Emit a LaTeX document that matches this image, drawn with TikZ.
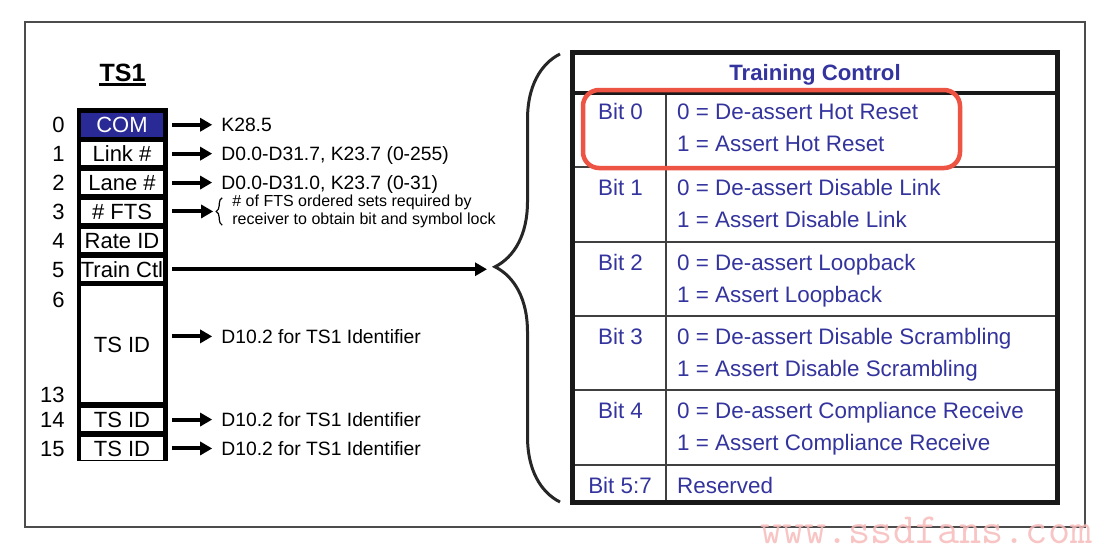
\documentclass[tikz,border=0pt]{standalone}
\usepackage{fontspec}
\setmainfont{Liberation Sans}
\usetikzlibrary{arrows.meta,positioning,decorations.pathreplacing}
\definecolor{tcblue}{RGB}{52,52,158}
\definecolor{comblue}{RGB}{42,42,150}
\definecolor{hilite}{RGB}{238,84,68}
\definecolor{wmpink}{RGB}{247,186,186}

\begin{document}
\begin{tikzpicture}[
  x=1pt, y=-1pt,
  font=\fontsize{22}{26}\selectfont,
  cell/.style={fill=white, inner sep=0pt, minimum width=82pt, minimum height=23.5pt, text height=16pt, text depth=0pt},
  num/.style={inner sep=0pt, text height=16pt, text depth=0pt},
  note/.style={font=\fontsize{19.3}{22}\selectfont, inner sep=0pt, text height=13.8pt, text depth=0pt},
  fts/.style={font=\fontsize{16}{18}\selectfont, inner sep=0pt, align=left},
  arr/.style={-{Triangle[length=12pt,width=13pt]}, line width=4pt, shorten <=9pt, shorten >=9pt},
  brc/.style={decorate, decoration={brace, amplitude=6pt}, line width=1.2pt},
  bigbrc/.style={decorate, decoration={brace, amplitude=65pt, aspect=0.525}, line width=3pt, black!85},
  tc/.style={text=tcblue, inner sep=0pt, font=\fontsize{22.4}{26}\selectfont},
  rowline/.style={line width=2pt, black!75},
  hl/.style={draw=hilite, line width=4.5pt, rounded corners=16pt},
]
\useasboundingbox[fill=white] (0,0) rectangle (1116,554);
\draw[line width=2pt, black!70] (24.5,21.5) rectangle (1084.5,526.5);

% TS1 ordered set
\node[inner sep=0pt, anchor=base, font=\fontsize{25}{28}\selectfont\bfseries] (ts1) at (122.5,81) {TS1};
\draw[line width=3pt] ([yshift=-3.5pt]ts1.base west) -- ([yshift=-3.5pt]ts1.base east);

\fill[black] (77,108) rectangle (168,461);
\node[cell, fill=comblue, text=white] (c0) at (122,124.75) {COM};
\node[cell, below=5pt of c0] (c1) {Link \#};
\node[cell, below=5pt of c1] (c2) {Lane \#};
\node[cell, below=5pt of c2] (c3) {\# FTS};
\node[cell, below=5pt of c3] (c4) {Rate ID};
\node[cell, below=5pt of c4] (c5) {Train Ctl};
\node[cell, below=5pt of c5, minimum height=116pt] (c6) {TS ID};
\node[cell, below=5pt of c6] (c14) {TS ID};
\node[cell, below=5pt of c14] (c15) {TS ID};

\node[num, left=16pt of c0] (n0) {0};
\node[num, left=16pt of c1] (n1) {1};
\node[num, left=16pt of c2] (n2) {2};
\node[num, left=16pt of c3] (n3) {3};
\node[num, left=16pt of c4] (n4) {4};
\node[num, left=16pt of c5] (n5) {5};
\node[num, left=16pt of c6.north west, yshift=-13pt] (n6) {6};
\node[num, left=16pt of c6.south west, yshift=8pt] (n13) {13};
\node[num, left=16pt of c14] (n14) {14};
\node[num, left=16pt of c15] (n15) {15};

\node[note, right=58pt of c0] (t0) {K28.5};
\node[note, right=58pt of c1] (t1) {D0.0-D31.7, K23.7 (0-255)};
\node[note, right=58pt of c2] (t2) {D0.0-D31.0, K23.7 (0-31)};
\node[fts, right=69pt of c3] (t3) {\# of FTS ordered sets required by\\receiver to obtain bit and symbol lock};
\node[note, right=58pt of c6, yshift=8pt] (t6) {D10.2 for TS1 Identifier};
\node[note, right=58pt of c14] (t14) {D10.2 for TS1 Identifier};
\node[note, right=58pt of c15] (t15) {D10.2 for TS1 Identifier};

\draw[arr] (c0.east) -- (t0.west);
\draw[arr] (c1.east) -- (t1.west);
\draw[arr] (c2.east) -- (t2.west);
\draw[brc] ([xshift=-10pt,yshift=3pt]t3.south west) -- ([xshift=-10pt,yshift=-3pt]t3.north west);
\coordinate (f3) at ([xshift=-16pt]t3.west);
\draw[arr, shorten >=3pt] (c3.east) -- (f3);
\draw[arr] (c6.east |- t6.west) -- (t6.west);
\draw[arr] (c14.east) -- (t14.west);
\draw[arr] (c15.east) -- (t15.west);

% brace to the training control table
\coordinate (bigtop) at (560,54);
\coordinate (bigbot) at (560,502);
\draw[bigbrc] (bigbot) -- (bigtop);
\path (bigtop |- c5) ++(-65,0) coordinate (btip);
\draw[arr, shorten >=8pt] (c5.east) -- (btip);

% training control table
\draw[line width=5pt, black!90] (572,52.5) rectangle (1057,502.5);
\draw[line width=4pt, black!90] (572,92.5) -- (1057,92.5);
\foreach \y in {167,242,316,390,465}
  \draw[rowline] (575,\y) -- (1055,\y);
\draw[rowline] (666,95) -- (666,500);

\node[tc, anchor=base, font=\fontsize{22.2}{26}\selectfont\bfseries] (hdr) at (815,80) {Training Control};
\foreach \y/\b/\p in {111/0/Hot Reset,187/1/Disable Link,262/2/Loopback,336/3/Disable Scrambling,410/4/Compliance Receive} {
  \node[tc, anchor=base] (b\b) at (620.5,\y+8) {Bit \b};
  \node[tc, anchor=base west] (v\b a) at (677,\y+8) {0 = De-assert \p};
  \node[tc, anchor=base west] (v\b b) at (677,\y+40) {1 = Assert \p};
}
\node[tc, anchor=base] (b5) at (620,493) {Bit 5:7};
\node[tc, anchor=base west] (v5) at (677,493) {Reserved};

\draw[hl] (583,90) rectangle (960,168);

\node[text=wmpink, opacity=0.85, anchor=base west, inner sep=0pt, font=\fontsize{43}{46}\ttfamily] (wm) at (760,543) {www.ssdfans.com};
\end{tikzpicture}
\end{document}
